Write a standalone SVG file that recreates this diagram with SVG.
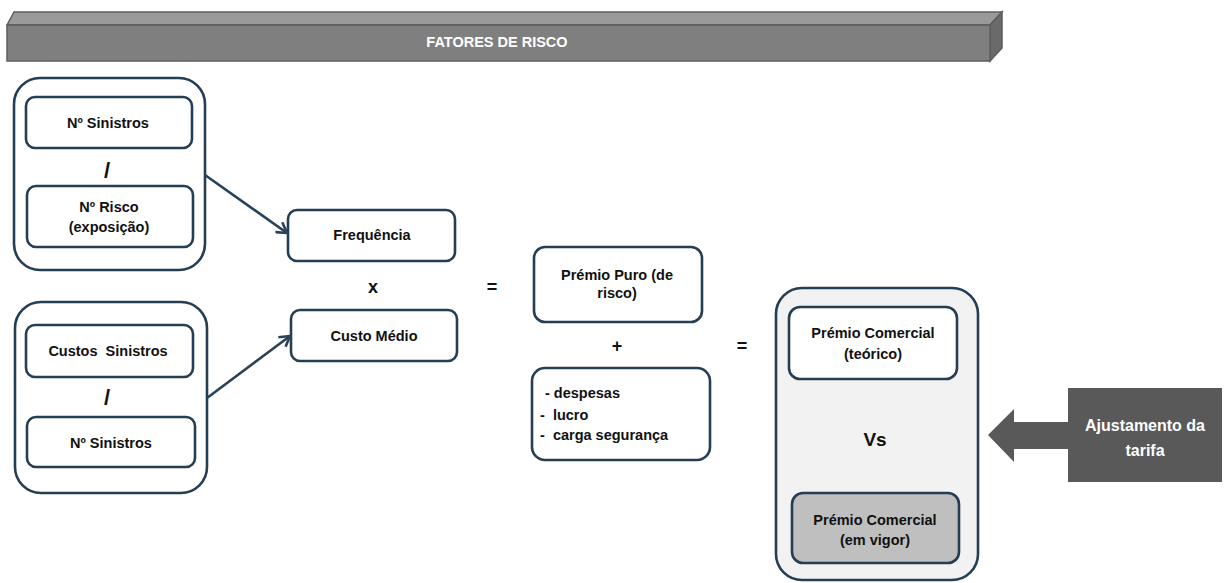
<svg xmlns="http://www.w3.org/2000/svg" width="1227" height="583" viewBox="0 0 1227 583">
  <style>
    .box { fill: #ffffff; stroke: #263e53; stroke-width: 2.6; }
    .outer { fill: #ffffff; stroke: #263e53; stroke-width: 2.6; }
    .t { font-family: "Liberation Sans", Arial, sans-serif; font-weight: bold; font-size: 14.5px; fill: #111111; text-anchor: middle; }
    .l { font-family: "Liberation Sans", Arial, sans-serif; font-weight: bold; font-size: 14.5px; fill: #111111; text-anchor: start; }
    .op { font-family: "Liberation Sans", Arial, sans-serif; font-weight: bold; font-size: 18px; fill: #111111; text-anchor: middle; }
    .sl { font-family: "Liberation Sans", Arial, sans-serif; font-weight: bold; font-size: 22px; fill: #111111; text-anchor: middle; }
    .w { fill: #ffffff; }
    .conn { stroke: #2a4257; stroke-width: 2.6; fill: none; }
  </style>
  <defs>
    <marker id="chev" viewBox="0 0 14 14" refX="12" refY="7" markerWidth="14" markerHeight="14" markerUnits="userSpaceOnUse" orient="auto">
      <path d="M2,1 L12,7 L2,13" fill="none" stroke="#2a4257" stroke-width="2.6" stroke-linejoin="round"/>
    </marker>
  </defs>

  <rect width="1227" height="583" fill="#ffffff"/>

  <!-- header bar -->
  <g id="header">
    <polygon points="7,25 14,12 1002,12 990,25" fill="#9a9a9a" stroke="#5e5e5e" stroke-width="1.5"/>
    <polygon points="990,25 1002,12 1002,48 990,61" fill="#6a6a6a" stroke="#5e5e5e" stroke-width="1.5"/>
    <rect x="7" y="25" width="983" height="36" fill="#7f7f7f" stroke="#5e5e5e" stroke-width="1.5"/>
    <text class="t w" x="497" y="47" style="font-size:14.5px">FATORES DE RISCO</text>
  </g>

  <!-- frequency group -->
  <g id="freq-group">
    <rect class="outer" x="14" y="78" width="191" height="192" rx="26"/>
    <g id="n-sinistros-1">
      <rect class="box" x="26" y="97" width="166" height="51" rx="9"/>
      <text class="t" x="108" y="128">Nº Sinistros</text>
    </g>
    <text class="sl" x="107" y="178">/</text>
    <g id="n-risco">
      <rect class="box" x="27" y="186" width="166" height="61" rx="9"/>
      <text class="t" x="109" y="212">Nº Risco</text>
      <text class="t" x="109" y="232">(exposição)</text>
    </g>
  </g>

  <!-- severity group -->
  <g id="cost-group">
    <rect class="outer" x="15" y="302" width="192" height="191" rx="26"/>
    <g id="custos-sinistros">
      <rect class="box" x="26" y="325" width="167" height="52" rx="9"/>
      <text class="t" x="108" y="356" xml:space="preserve">Custos  Sinistros</text>
    </g>
    <text class="sl" x="107" y="405">/</text>
    <g id="n-sinistros-2">
      <rect class="box" x="27" y="417" width="168" height="50" rx="9"/>
      <text class="t" x="111" y="448">Nº Sinistros</text>
    </g>
  </g>

  <g id="frequencia">
    <rect class="box" x="288" y="210" width="167" height="51" rx="9"/>
    <text class="t" x="372" y="240">Frequência</text>
  </g>
  <text class="op" x="373" y="293">x</text>
  <g id="custo-medio">
    <rect class="box" x="291" y="310" width="166" height="51" rx="9"/>
    <text class="t" x="374" y="341">Custo Médio</text>
  </g>
  <text class="op" x="492" y="293">=</text>

  <g id="premio-puro">
    <rect class="box" x="534" y="247" width="168" height="75" rx="11"/>
    <text class="t" x="617" y="280">Prémio Puro (de</text>
    <text class="t" x="617" y="298">risco)</text>
  </g>
  <text class="op" x="617" y="352">+</text>
  <g id="encargos">
    <rect class="box" x="532" y="368" width="178" height="92" rx="13"/>
    <text class="l" x="545" y="398">- despesas</text>
    <text class="l" x="540" y="420" xml:space="preserve">-  lucro</text>
    <text class="l" x="540" y="440" xml:space="preserve">-  carga segurança</text>
  </g>
  <text class="op" x="742" y="352">=</text>

  <!-- commercial premium comparison -->
  <g id="comercial-group">
    <rect x="776" y="288" width="202" height="292" rx="26" fill="#f2f2f2" stroke="#263e53" stroke-width="2.6"/>
    <g id="premio-teorico">
      <rect class="box" x="789" y="307" width="168" height="72" rx="11"/>
      <text class="t" x="873" y="338">Prémio Comercial</text>
      <text class="t" x="873" y="359">(teórico)</text>
    </g>
    <text class="op" x="875" y="446" style="font-size:19px">Vs</text>
    <g id="premio-vigor">
      <rect x="792" y="493" width="167" height="70" rx="11" fill="#bfbfbf" stroke="#263e53" stroke-width="2.6"/>
      <text class="t" x="875" y="525">Prémio Comercial</text>
      <text class="t" x="875" y="545">(em vigor)</text>
    </g>
  </g>

  <!-- tariff adjustment callout -->
  <g id="ajustamento">
    <polygon points="988,435 1014,409 1014,422 1069,422 1069,449 1014,449 1014,462" fill="#595959"/>
    <rect x="1068" y="388" width="154" height="94" fill="#595959"/>
    <text class="t w" x="1145" y="431" style="font-size:16px">Ajustamento da</text>
    <text class="t w" x="1145" y="456" style="font-size:16px">tarifa</text>
  </g>

  <g id="connectors">
    <line class="conn" x1="205" y1="175" x2="287" y2="233" marker-end="url(#chev)"/>
    <line class="conn" x1="207" y1="398" x2="290" y2="336" marker-end="url(#chev)"/>
  </g>
</svg>
